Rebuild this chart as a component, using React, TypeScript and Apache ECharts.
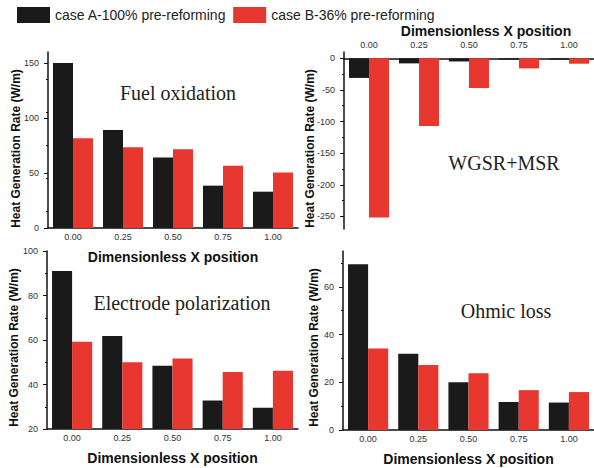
import React, { useEffect, useRef } from "react";
import * as echarts from "echarts";

const categories = ["0.00", "0.25", "0.50", "0.75", "1.00"];
const seriesNames = ["case A-100% pre-reforming", "case B-36% pre-reforming"];

const fuelA = [150, 89, 64, 38.5, 33];
const fuelB = [81.5, 73.5, 71.5, 56.5, 50.5];
const wgsrA = [-31, -8, -5, -2, -2];
const wgsrB = [-252, -107, -47, -16, -8.5];
const elecA = [91, 61.8, 48.4, 32.8, 29.5];
const elecB = [59.2, 50, 51.7, 45.6, 46.2];
const ohmA = [69.5, 32, 20, 11.7, 11.5];
const ohmB = [34.2, 27.2, 23.8, 16.7, 15.9];

const fuelTicks = [0, 50, 100, 150];
const wgsrTicks = [0, -50, -100, -150, -200, -250];
const elecTicks = [20, 40, 60, 80, 100];
const ohmTicks = [0, 20, 40, 60];

const panelTitles = ["Fuel oxidation", "WGSR+MSR", "Electrode polarization", "Ohmic loss"];
const yTitle = "Heat Generation Rate (W/m)";
const xTitle = "Dimensionless X position";

const BLACK = "#1b1a1a";
const RED = "#e8372f";
const AXIS = "#111111";
const FONT = "Liberation Sans, Arial, sans-serif";

export default function App() {
  const ref = useRef<HTMLDivElement>(null);
  useEffect(() => {
    if (!ref.current) return;
    const chart = echarts.init(ref.current, undefined, { renderer: "svg" });

    const xAxisBase = (gridIndex: number, top: boolean, nameGap: number, namePad: number[]) => ({
      type: "category",
      gridIndex,
      data: categories,
      position: top ? "top" : "bottom",
      axisLine: { show: true, onZero: true, lineStyle: { color: AXIS, width: 1.5 } },
      axisTick: { show: false },
      axisLabel: { fontSize: 9, color: "#333", margin: top ? 3 : 4, fontFamily: FONT },
      name: xTitle,
      nameLocation: "middle",
      nameGap,
      nameTextStyle: { fontSize: 14, fontWeight: "bold", color: AXIS, fontFamily: FONT, padding: namePad },
    });

    const yAxisBase = (gridIndex: number, min: number, max: number, ticks: number[]) => ({
      type: "value",
      gridIndex,
      min,
      max,
      splitLine: { show: false },
      axisLine: { show: true, onZero: false, lineStyle: { color: AXIS, width: 1.5 } },
      axisTick: { show: true, length: 4, customValues: ticks, lineStyle: { color: AXIS } },
      minorTick: { show: true, splitNumber: 2, length: 2, lineStyle: { color: AXIS } },
      axisLabel: {
        fontSize: 9,
        color: "#333",
        margin: 9,
        fontFamily: FONT,
        customValues: ticks,
        formatter: (v: number) => (ticks.indexOf(v) >= 0 ? String(v) : ""),
      },
    });

    const barPair = (i: number, a: number[], b: number[]) => [
      {
        type: "bar",
        name: seriesNames[0],
        xAxisIndex: i,
        yAxisIndex: i,
        data: a,
        itemStyle: { color: BLACK },
        barGap: "0%",
        barCategoryGap: "20%",
      },
      {
        type: "bar",
        name: seriesNames[1],
        xAxisIndex: i,
        yAxisIndex: i,
        data: b,
        itemStyle: { color: RED },
        barGap: "0%",
        barCategoryGap: "20%",
      },
    ];

    const titleText = (text: string, x: number, y: number) => ({
      type: "text",
      x,
      y,
      style: {
        text,
        fill: "#222",
        font: "20px 'Liberation Serif', 'Times New Roman', serif",
        textAlign: "center",
        textVerticalAlign: "middle",
      },
    });

    const yTitleText = (x: number, y: number) => ({
      type: "text",
      x,
      y,
      rotation: Math.PI / 2,
      style: {
        text: yTitle,
        fill: AXIS,
        font: "bold 12px 'Liberation Sans', Arial, sans-serif",
        textAlign: "center",
        textVerticalAlign: "middle",
      },
    });

    chart.setOption({
      animation: false,
      backgroundColor: "#ffffff",
      legend: {
        data: seriesNames,
        left: 12,
        top: 2,
        itemWidth: 33,
        itemHeight: 16,
        itemGap: 7,
        icon: "rect",
        textStyle: { fontSize: 14, color: "#222", fontFamily: FONT },
      },
      grid: [
        { left: 48, top: 52, width: 250, height: 176 },
        { left: 344, top: 52, width: 252, height: 177 },
        { left: 47, top: 251, width: 251, height: 178 },
        { left: 343, top: 251, width: 253, height: 179 },
      ],
      xAxis: [
        xAxisBase(0, false, 22, [0, 0, 0, 0]),
        xAxisBase(1, true, 14, [0, 0, 0, 34]),
        xAxisBase(2, false, 22, [0, 0, 0, 0]),
        xAxisBase(3, false, 22, [0, 0, 0, 0]),
      ],
      yAxis: [
        yAxisBase(0, 0, 160, fuelTicks),
        yAxisBase(1, -270, 10, wgsrTicks),
        yAxisBase(2, 20, 100, elecTicks),
        yAxisBase(3, 0, 75, ohmTicks),
      ],
      series: [
        ...barPair(0, fuelA, fuelB),
        ...barPair(1, wgsrA, wgsrB),
        ...barPair(2, elecA, elecB),
        ...barPair(3, ohmA, ohmB),
      ],
      graphic: [
        titleText(panelTitles[0], 178, 93),
        titleText(panelTitles[1], 504, 163),
        titleText(panelTitles[2], 182, 303),
        titleText(panelTitles[3], 506, 311),
        yTitleText(16, 148.5),
        yTitleText(310, 148.5),
        yTitleText(14, 347.5),
        yTitleText(314, 347.5),
      ],
    });

    return () => chart.dispose();
  }, []);

  return (
    <div
      ref={ref}
      style={{ position: "fixed", left: 0, top: 0, width: 594, height: 468, background: "#fff" }}
    />
  );
}
